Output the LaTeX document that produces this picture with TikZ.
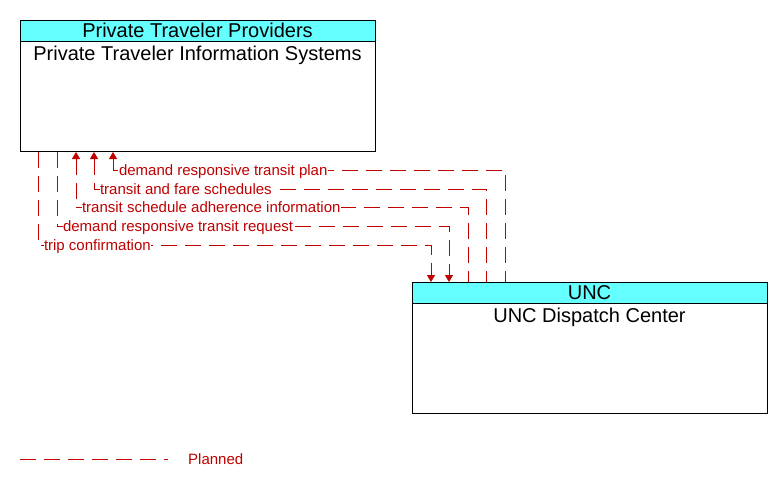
\documentclass[tikz,border=0pt]{standalone}
\usepackage{fontspec}
\setmainfont{Liberation Sans}
\usetikzlibrary{arrows.meta,calc}
\definecolor{flowred}{RGB}{192,0,0}
\definecolor{hdrcyan}{RGB}{102,255,255}
\begin{document}
\begin{tikzpicture}[x=1pt,y=-1pt,
  box/.style={draw=black,line width=1pt,fill=white,minimum width=355pt,minimum height=131pt,inner sep=0pt,anchor=north west},
  hdrbox/.style={draw=black,line width=1pt,fill=hdrcyan,minimum width=355pt,minimum height=21pt,inner sep=0pt,anchor=north west},
  hdrtext/.style={anchor=base,inner sep=0pt,font=\fontsize{20}{22}\selectfont},
  flow/.style={draw=flowred,line width=1pt,dash pattern=on 16pt off 8pt},
  tip/.style={-{Triangle[width=8pt,length=7pt]}},
  revtip/.style={{Triangle[width=8pt,length=7pt]}-},
  lbl/.style={anchor=base west,inner sep=0.5pt,fill=white,text=flowred,font=\fontsize{15}{17}\selectfont,xshift=5pt,yshift=-5.5pt}
]
\useasboundingbox (0,0) rectangle (782,485);
\fill[white] (0,0) rectangle (782,485);
% boxes
\node[box] (pt) at (20,20) {};
\node[hdrbox] (pthdr) at (20,20) {};
\node[hdrtext] (pthdrtext) at (197.5,37) {Private Traveler Providers};
\node[hdrtext] (pttitle) at (197.5,60) {Private Traveler Information Systems};
\node[box] (unc) at (412,282) {};
\node[hdrbox] (unchdr) at (412,282) {};
\node[hdrtext] (unchdrtext) at (589.5,299) {UNC};
\node[hdrtext] (unctitle) at (589.5,322) {UNC Dispatch Center};
% flows
\draw[flow,revtip] ([xshift=93pt]pt.south west) -- ++(0,18) node[lbl] {demand responsive transit plan} -| ([xshift=93pt]unc.north west);
\draw[flow,revtip] ([xshift=74pt]pt.south west) -- ++(0,37) node[lbl] {transit and fare schedules} -| ([xshift=74pt]unc.north west);
\draw[flow,revtip] ([xshift=56pt]pt.south west) -- ++(0,55) node[lbl] {transit schedule adherence information} -| ([xshift=56pt]unc.north west);
\draw[flow,tip] ([xshift=37pt]pt.south west) -- ++(0,74) node[lbl] {demand responsive transit request} -| ([xshift=37pt]unc.north west);
\draw[flow,tip] ([xshift=18pt]pt.south west) -- ++(0,93) node[lbl] {trip confirmation} -| ([xshift=19pt]unc.north west);
% legend
\coordinate (lga) at (20,459);
\coordinate (lgb) at (168,459);
\draw[flow] (lga) -- (lgb);
\node[anchor=base west,inner sep=0pt,text=flowred,font=\fontsize{15}{17}\selectfont] (lgtext) at (188,464) {Planned};
\end{tikzpicture}
\end{document}
